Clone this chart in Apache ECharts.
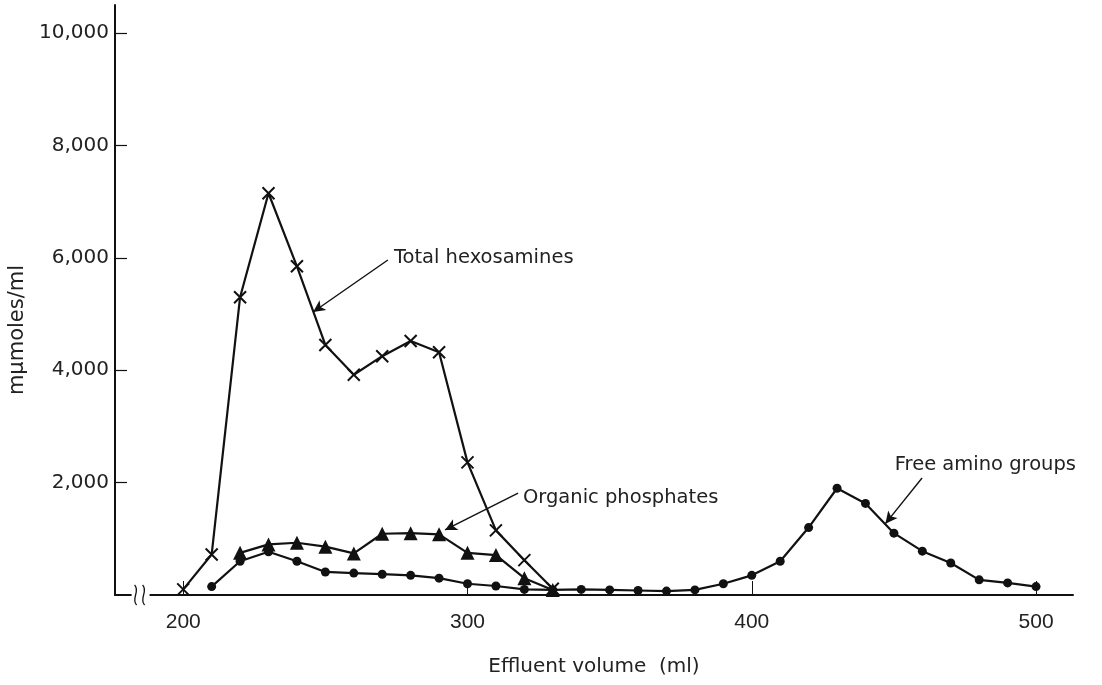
<!DOCTYPE html>
<html>
<head>
<meta charset="utf-8">
<script src="https://cdn.jsdelivr.net/npm/echarts@6/dist/echarts.min.js"></script>
<style>html,body{margin:0;padding:0;background:#fff}#c{width:1102px;height:685px}</style>
</head>
<body>
<div id="c"></div>
<script>
// Effluent volume (ml)
const hexVolume = [200,210,220,230,240,250,260,270,280,290,300,310,320,330];
const hexValues = [100,720,5300,7150,5850,4450,3920,4250,4520,4320,2360,1150,620,110];

const phosVolume = [220,230,240,250,260,270,280,290,300,310,320,330];
const phosValues = [750,900,930,860,740,1090,1100,1080,750,710,300,90];

const aminoVolume = [210,220,230,240,250,260,270,280,290,300,310,320,330,340,350,360,370,380,390,400,410,420,430,440,450,460,470,480,490,500];
const aminoValues = [150,600,770,600,410,390,370,350,300,200,160,100,90,100,90,80,70,90,200,350,600,1200,1900,1630,1100,780,570,270,215,150];

const xTicks = [200,300,400,500];
const yTicks = [2000,4000,6000,8000,10000];

const pair = (xs, ys) => xs.map((x,i)=>[x, ys[i]]);
const INK = '#111';
const fontY = 'DejaVu Sans';
const fontTxt = 'DejaVu Sans';

function arrow(from, to){
  return [{coord: from, symbol:'none'}, {coord: to, symbol:'arrow'}];
}
function note(at, text){
  return {coord: at, symbol:'circle', symbolSize: 0,
    label:{show:true, formatter:text, position:'right', distance:2,
      color:'#222', fontFamily:fontTxt, fontSize:19.5}};
}
const markLineStyle = {silent:true, animation:false, symbolSize:[9,12],
  lineStyle:{color:INK, width:1.4, type:'solid'}, label:{show:false}};

const chart = echarts.init(document.getElementById('c'));
chart.setOption({
  animation:false,
  backgroundColor:'#fff',
  grid:{left:115, right:29, top:5, bottom:90, containLabel:false, outerBoundsMode:'none'},
  xAxis:{
    type:'value', min:176, max:513,
    name:'Effluent volume  (ml)', nameLocation:'middle', nameGap:62,
    nameTextStyle:{color:'#222', fontFamily:fontTxt, fontSize:20},
    axisLine:{show:true, lineStyle:{color:INK, width:2}},
    axisTick:{show:true, inside:true, length:14, customValues:xTicks, lineStyle:{color:INK, width:1}},
    axisLabel:{show:true, customValues:xTicks, margin:17, color:'#222', fontFamily:'Liberation Sans', fontSize:21},
    splitLine:{show:false}
  },
  yAxis:{
    type:'value', min:0, max:10500,
    name:'mμmoles/ml', nameLocation:'middle', nameGap:86,
    nameTextStyle:{color:'#222', fontFamily:fontY, fontSize:21, padding:[0,60,0,0]},
    axisLine:{show:true, lineStyle:{color:INK, width:2}},
    axisTick:{show:true, inside:true, length:12, customValues:yTicks, lineStyle:{color:INK, width:1.2}},
    axisLabel:{show:true, customValues:yTicks, margin:6, color:'#222', fontFamily:fontY, fontSize:20,
      formatter: v => v.toLocaleString('en-US')},
    splitLine:{show:false}
  },
  series:[
    {
      name:'Total hexosamines', type:'line', data: pair(hexVolume, hexValues),
      symbol:'path://M0,0L10,10M10,0L0,10', symbolSize:12,
      itemStyle:{color:'rgba(0,0,0,0)', borderColor:INK, borderWidth:2},
      lineStyle:{color:INK, width:2.2},
      z:3,
      markLine: Object.assign({data:[arrow([272.0,5961],[245.7,5036])]}, markLineStyle),
      markPoint:{silent:true, animation:false, data:[note([273.4,5996],'Total hexosamines')]}
    },
    {
      name:'Organic phosphates', type:'line', data: pair(phosVolume, phosValues),
      symbol:'triangle', symbolSize:14,
      itemStyle:{color:INK},
      lineStyle:{color:INK, width:2.2},
      z:4,
      markLine: Object.assign({data:[arrow([317.8,1815],[292.1,1157])]}, markLineStyle),
      markPoint:{silent:true, animation:false, data:[note([318.8,1720],'Organic phosphates')]}
    },
    {
      name:'Free amino groups', type:'line', data: pair(aminoVolume, aminoValues),
      symbol:'circle', symbolSize:9,
      itemStyle:{color:INK},
      lineStyle:{color:INK, width:2.2},
      z:5,
      markLine: Object.assign({data:[arrow([459.9,2082],[447.0,1270])]}, markLineStyle),
      markPoint:{silent:true, animation:false, data:[note([449.6,2310],'Free amino groups')]}
    }
  ]
});

// axis break symbol on the x axis near its left end
const p = chart.convertToPixel({gridIndex:0}, [185, 0]);
const bx = p[0], by = p[1];
chart.setOption({
  graphic:[
    {type:'rect', shape:{x:bx-9, y:by-3, width:18, height:6}, style:{fill:'#fff'}, z:50},
    {type:'bezierCurve', shape:{x1:bx-6, y1:by-10, cpx1:bx, cpy1:by-4, cpx2:bx-10, cpy2:by+4, x2:bx-4, y2:by+10, percent:1}, style:{stroke:INK, lineWidth:1.3, fill:null}, z:51},
    {type:'bezierCurve', shape:{x1:bx+2, y1:by-10, cpx1:bx+8, cpy1:by-4, cpx2:bx-2, cpy2:by+4, x2:bx+4, y2:by+10, percent:1}, style:{stroke:INK, lineWidth:1.3, fill:null}, z:51}
  ]
});
</script>
</body>
</html>
